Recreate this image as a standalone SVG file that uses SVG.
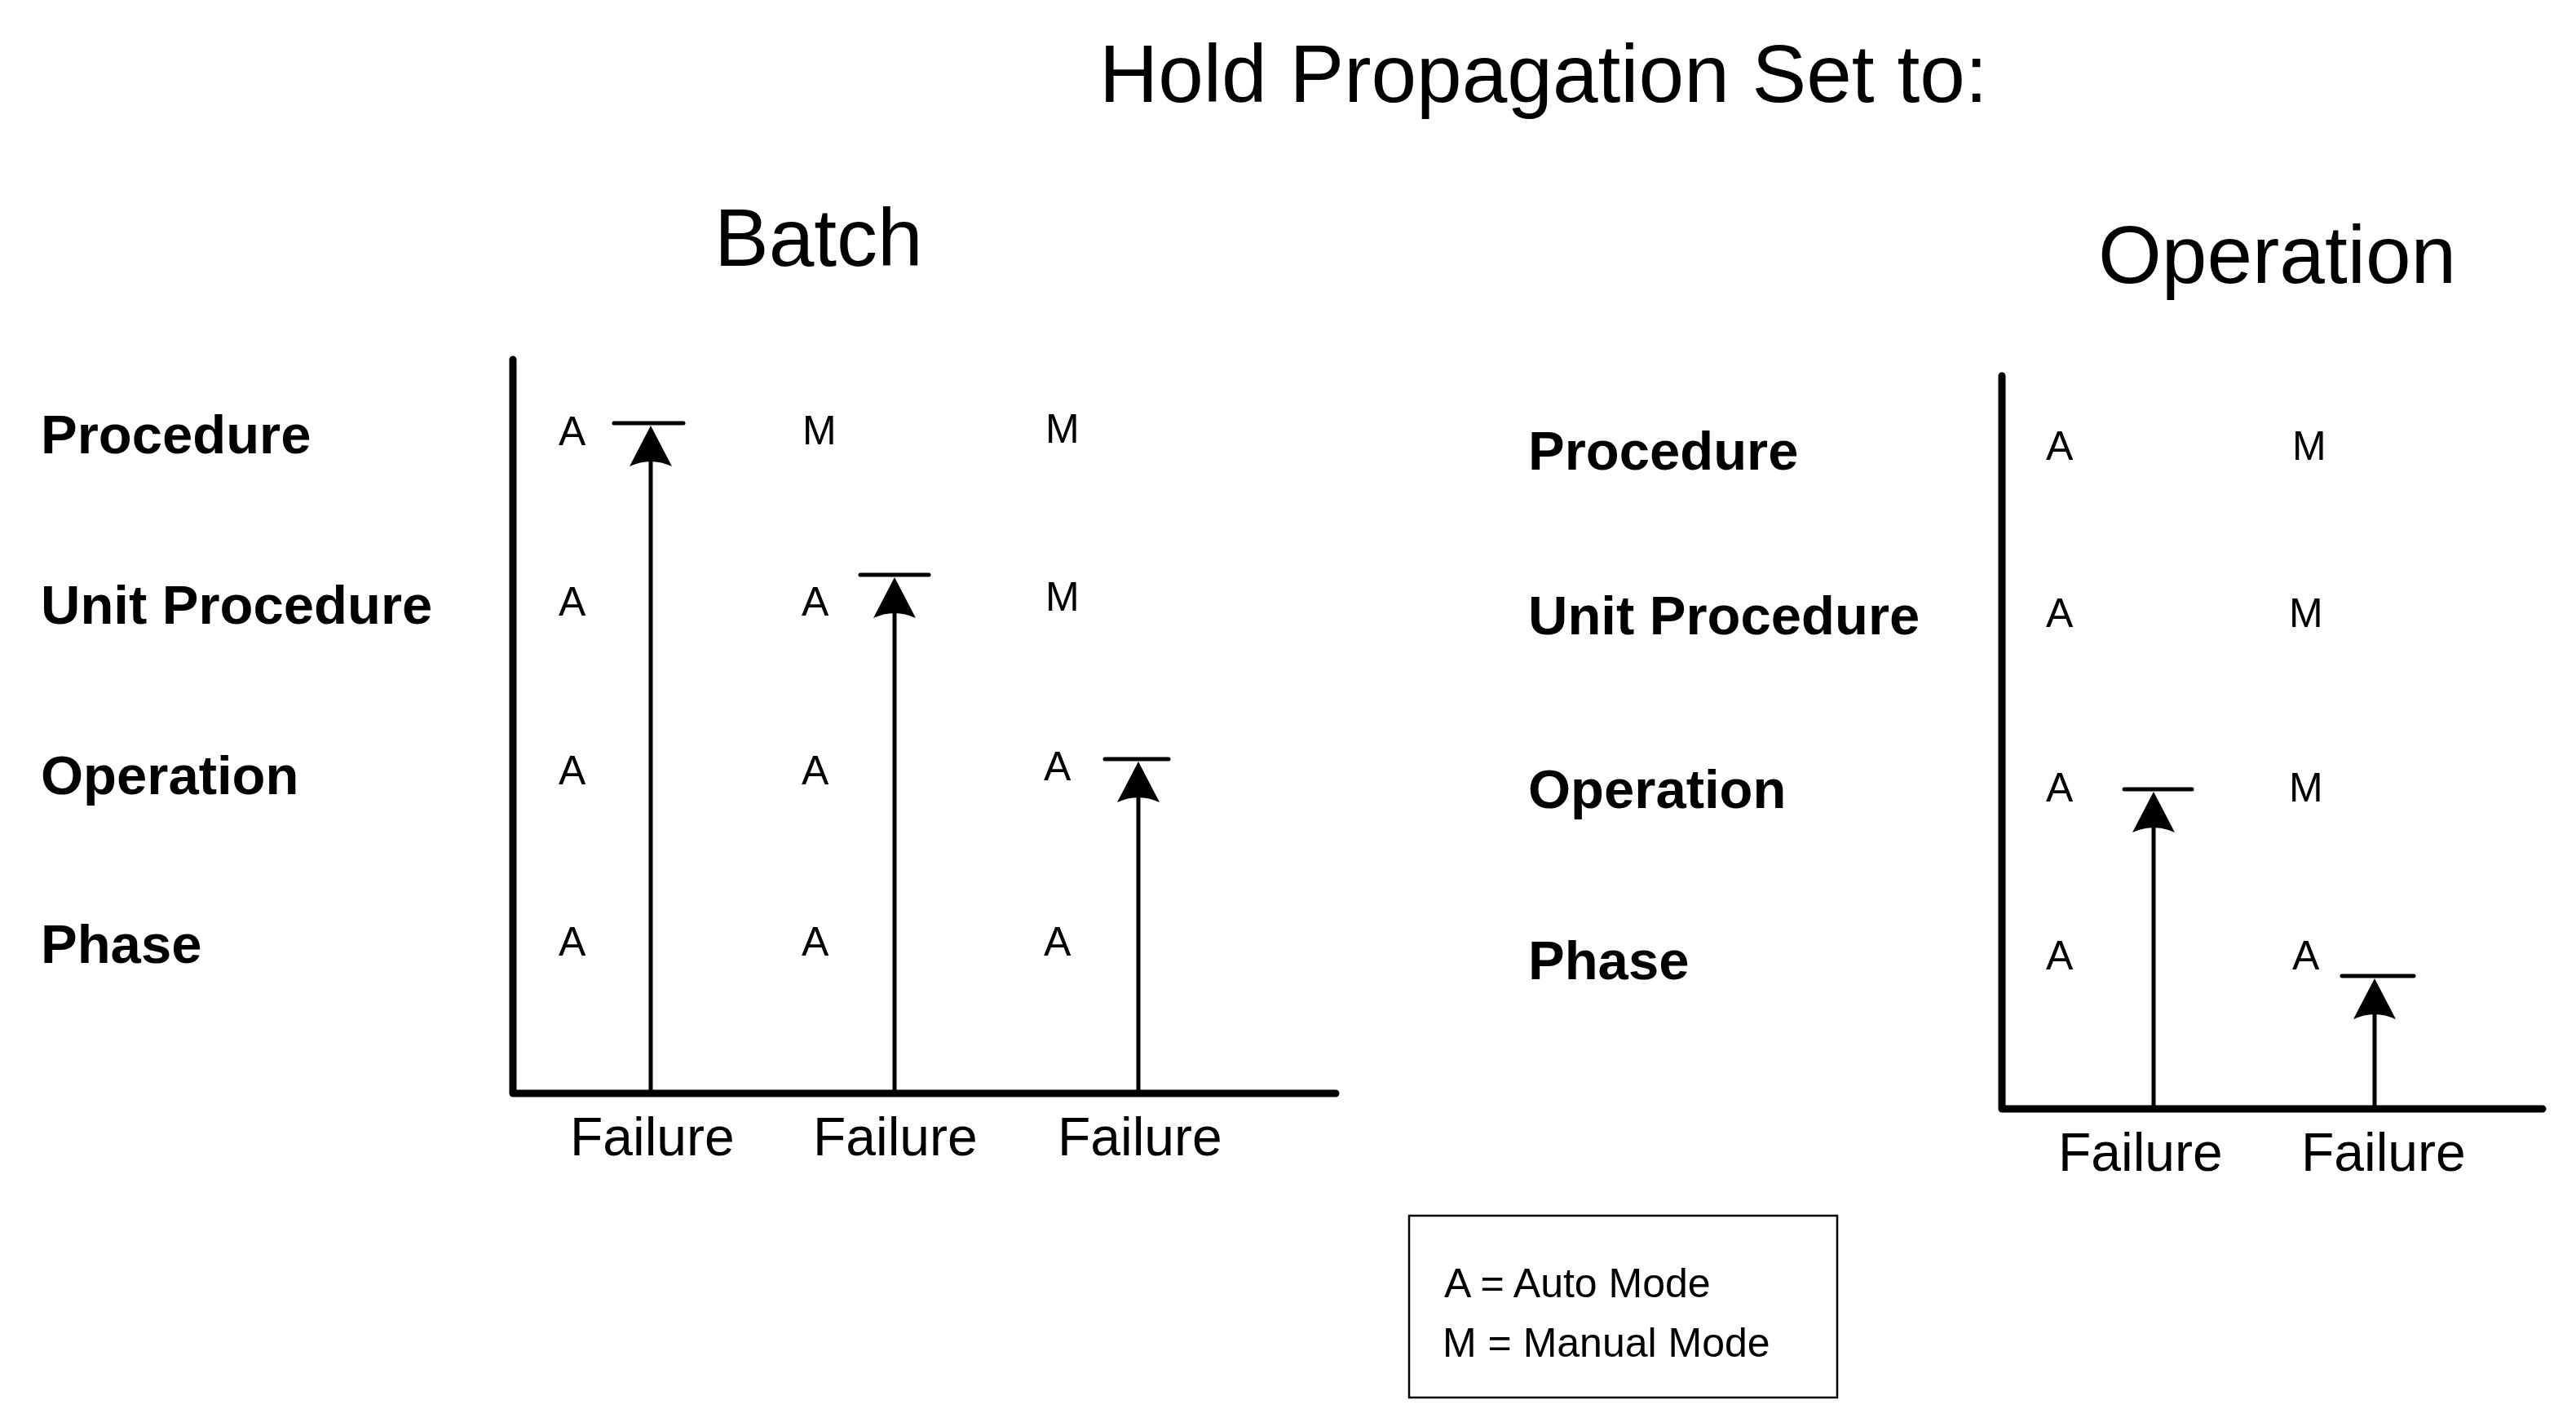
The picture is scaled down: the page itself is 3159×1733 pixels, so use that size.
<svg xmlns="http://www.w3.org/2000/svg" width="3159" height="1733" viewBox="0 0 3159 1733">
<defs>
<style>
text{font-family:"Liberation Sans",Arial,sans-serif;fill:#000}
.title{font-size:100px}
.sub{font-size:100px}
.lvl{font-size:67px;font-weight:bold}
.mode{font-size:50px}
.fail{font-size:66px}
.leg{font-size:50px}
.axis{stroke:#000;stroke-width:9;fill:none;stroke-linecap:round;stroke-linejoin:round}
.shaft{stroke:#000;stroke-width:5;fill:none}
.bar{stroke:#000;stroke-width:5;fill:none;stroke-linecap:round}
</style>
<marker id="ah" markerUnits="userSpaceOnUse" viewBox="0 0 50 52" markerWidth="50" markerHeight="52" refX="30" refY="26" orient="auto">
<path d="M50,26 L0,0 Q12,26 0,52 Z" fill="#000"/>
</marker>
</defs>
<rect width="3159" height="1733" fill="#fff"/>
<g id="title"><text class="title" x="1348" y="125">Hold Propagation Set to:</text></g>

<g id="batch">
<text class="sub" x="876" y="326">Batch</text>
<g id="batch-levels">
<text class="lvl" x="50" y="556">Procedure</text>
<text class="lvl" x="50" y="765">Unit Procedure</text>
<text class="lvl" x="50" y="974">Operation</text>
<text class="lvl" x="50" y="1181">Phase</text>
</g>
<g id="batch-axes">
<path class="axis" d="M629,441 V1341 H1638"/>
</g>
<g id="batch-modes">
<text class="mode" x="685" y="546">A</text>
<text class="mode" x="984" y="545">M</text>
<text class="mode" x="1282" y="543">M</text>
<text class="mode" x="685" y="755">A</text>
<text class="mode" x="983" y="755">A</text>
<text class="mode" x="1282" y="749">M</text>
<text class="mode" x="685" y="962">A</text>
<text class="mode" x="983" y="962">A</text>
<text class="mode" x="1280" y="957">A</text>
<text class="mode" x="685" y="1172">A</text>
<text class="mode" x="983" y="1172">A</text>
<text class="mode" x="1280" y="1172">A</text>
</g>
<g id="batch-failures">
<text class="fail" x="699" y="1417">Failure</text>
<text class="fail" x="997" y="1417">Failure</text>
<text class="fail" x="1297" y="1417">Failure</text>
</g>
</g>

<g id="operation">
<text class="sub" x="2573" y="347">Operation</text>
<g id="op-levels">
<text class="lvl" x="1874" y="576">Procedure</text>
<text class="lvl" x="1874" y="778">Unit Procedure</text>
<text class="lvl" x="1874" y="991">Operation</text>
<text class="lvl" x="1874" y="1201">Phase</text>
</g>
<g id="op-axes">
<path class="axis" d="M2455,461 V1360 H3118"/>
</g>
<g id="op-modes">
<text class="mode" x="2509" y="564">A</text>
<text class="mode" x="2811" y="564">M</text>
<text class="mode" x="2509" y="769">A</text>
<text class="mode" x="2807" y="769">M</text>
<text class="mode" x="2509" y="983">A</text>
<text class="mode" x="2807" y="983">M</text>
<text class="mode" x="2509" y="1189">A</text>
<text class="mode" x="2811" y="1189">A</text>
</g>
<g id="op-failures">
<text class="fail" x="2524" y="1436">Failure</text>
<text class="fail" x="2822" y="1436">Failure</text>
</g>
</g>

<g id="connectors">
<line class="shaft" x1="798" y1="1341" x2="798" y2="542" marker-end="url(#ah)"/>
<line class="bar" x1="753" y1="519" x2="838" y2="519"/>
<line class="shaft" x1="1097" y1="1341" x2="1097" y2="728" marker-end="url(#ah)"/>
<line class="bar" x1="1055" y1="705" x2="1139" y2="705"/>
<line class="shaft" x1="1396" y1="1341" x2="1396" y2="954" marker-end="url(#ah)"/>
<line class="bar" x1="1355" y1="931" x2="1433" y2="931"/>
<line class="shaft" x1="2641" y1="1360" x2="2641" y2="991" marker-end="url(#ah)"/>
<line class="bar" x1="2605" y1="968" x2="2688" y2="968"/>
<line class="shaft" x1="2912" y1="1360" x2="2912" y2="1220" marker-end="url(#ah)"/>
<line class="bar" x1="2872" y1="1197" x2="2960" y2="1197"/>
</g>

<g id="legend">
<rect x="1728" y="1491" width="525" height="223" fill="none" stroke="#000" stroke-width="2.5"/>
<text class="leg" x="1771" y="1591">A = Auto Mode</text>
<text class="leg" x="1769" y="1664">M = Manual Mode</text>
</g>
</svg>
